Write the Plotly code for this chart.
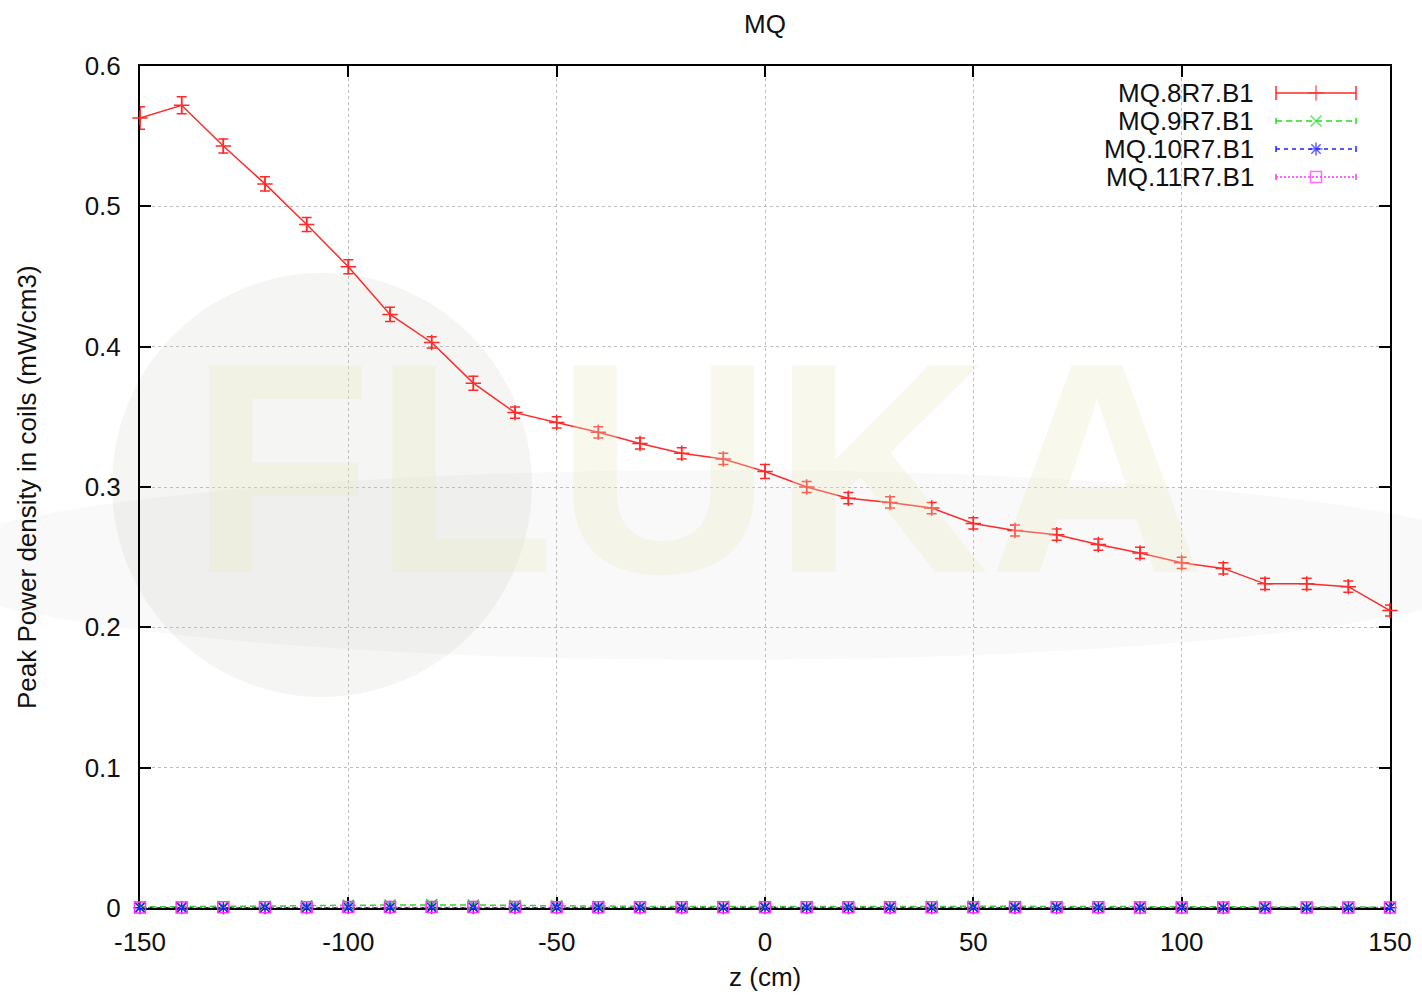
import plotly.graph_objects as go

# Longitudinal position along the magnet (cm)
z_cm = [-150, -140, -130, -120, -110, -100, -90, -80, -70, -60, -50, -40, -30, -20, -10,
        0, 10, 20, 30, 40, 50, 60, 70, 80, 90, 100, 110, 120, 130, 140, 150]

# Peak power density in coils (mW/cm3)
mq8 = [0.563, 0.572, 0.543, 0.516, 0.487, 0.457, 0.423, 0.403, 0.374, 0.353, 0.346, 0.339,
       0.331, 0.324, 0.320, 0.311, 0.300, 0.292, 0.289, 0.285, 0.274, 0.269, 0.266, 0.259,
       0.253, 0.246, 0.242, 0.231, 0.231, 0.229, 0.212]
mq8_err = [0.008, 0.006, 0.005, 0.005, 0.005, 0.005, 0.005, 0.004, 0.005, 0.004, 0.004, 0.004,
           0.004, 0.004, 0.004, 0.005, 0.004, 0.004, 0.004, 0.004, 0.004, 0.004, 0.004, 0.004,
           0.004, 0.004, 0.004, 0.004, 0.004, 0.004, 0.004]
mq9 = [0.0008, 0.0009, 0.0010, 0.0012, 0.0016, 0.0020, 0.0022, 0.0024, 0.0022, 0.0018, 0.0015,
       0.0012, 0.0011, 0.0010, 0.0010, 0.0011, 0.0010, 0.0010, 0.0011, 0.0012, 0.0013, 0.0012,
       0.0011, 0.0010, 0.0009, 0.0009, 0.0008, 0.0008, 0.0007, 0.0007, 0.0006]
mq10 = [0.0002, 0.0002, 0.0002, 0.0003, 0.0003, 0.0004, 0.0004, 0.0004, 0.0004, 0.0003, 0.0003,
        0.0003, 0.0003, 0.0003, 0.0003, 0.0003, 0.0003, 0.0003, 0.0003, 0.0003, 0.0003, 0.0003,
        0.0003, 0.0003, 0.0003, 0.0003, 0.0002, 0.0002, 0.0002, 0.0002, 0.0002]
mq11 = [0.0004, 0.0004, 0.0005, 0.0005, 0.0006, 0.0007, 0.0008, 0.0008, 0.0008, 0.0007, 0.0006,
        0.0006, 0.0005, 0.0005, 0.0005, 0.0005, 0.0005, 0.0005, 0.0005, 0.0005, 0.0005, 0.0005,
        0.0005, 0.0005, 0.0004, 0.0004, 0.0004, 0.0004, 0.0004, 0.0004, 0.0004]

series_names = ["MQ.8R7.B1", "MQ.9R7.B1", "MQ.10R7.B1", "MQ.11R7.B1"]
series_colors = ["#ff2a2a", "#22dd22", "#2020ff", "#ff30ff"]
series_dash = ["solid", "6px,4px", "4px,4px", "2px,2px"]
series_symbols = ["cross-thin", "x-thin", "asterisk", "square-open"]

x_ticks = [-150, -100, -50, 0, 50, 100, 150]
x_ticktext = ["-150", "-100", "-50", "0", "50", "100", "150"]
y_ticks = [0, 0.1, 0.2, 0.3, 0.4, 0.5, 0.6]
y_ticktext = ["0", "0.1", "0.2", "0.3", "0.4", "0.5", "0.6"]

FONT = "Liberation Sans, Arial, sans-serif"
W, H = 1422, 996
L, R, T, B = 140, 32, 66, 88
PW, PH = W - L - R, H - T - B


def px(x):
    return (x - L) / PW


def py(y):
    return (H - B - y) / PH


fig = go.Figure()

data = [mq8, mq9, mq10, mq11]
for i, (name, vals) in enumerate(zip(series_names, data)):
    tr = dict(
        x=z_cm, y=vals, name=name, mode="lines+markers", cliponaxis=False,
        line=dict(color=series_colors[i], width=1.5, dash=series_dash[i]),
        marker=dict(symbol=series_symbols[i], size=11, color=series_colors[i],
                    line=dict(color=series_colors[i], width=1.5)),
        showlegend=False,
    )
    if i == 0:
        tr["error_y"] = dict(type="data", array=mq8_err, visible=True,
                             color=series_colors[0], thickness=1.5, width=5)
    fig.add_trace(go.Scatter(**tr))

# Key samples drawn gnuplot-style (text on the left, sample on the right)
row_px = [93, 121, 149, 177]
sx0, sx1 = px(1276), px(1356)
cap = [7, 3, 3, 3]
for i, name in enumerate(series_names):
    yy = py(row_px[i])
    fig.add_trace(go.Scatter(
        x=[sx0, (sx0 + sx1) / 2, sx1], y=[yy, yy, yy], mode="lines+markers",
        xaxis="x2", yaxis="y2", showlegend=False, hoverinfo="skip",
        line=dict(color=series_colors[i], width=1.5, dash=series_dash[i]),
        marker=dict(symbol=series_symbols[i], size=[0, 11, 0], color=series_colors[i],
                    line=dict(color=series_colors[i], width=1.5)),
        error_y=dict(type="data", array=[cap[i] / PH, 0, cap[i] / PH], visible=True,
                     color=series_colors[i], thickness=1.5, width=0),
    ))
    fig.add_annotation(x=px(1256), y=yy, xref="paper", yref="paper", text=name,
                       showarrow=False, xanchor="right", yanchor="middle",
                       font=dict(family=FONT, size=26, color="#111111"))

# Faint background logo
fig.add_shape(type="circle", xref="paper", yref="paper", layer="below",
              x0=px(112), x1=px(532), y0=py(697), y1=py(273),
              fillcolor="rgba(205,212,195,0.20)", line=dict(width=0))
fig.add_shape(type="circle", xref="paper", yref="paper", layer="below",
              x0=px(-80), x1=px(1520), y0=py(660), y1=py(470),
              fillcolor="rgba(0,0,0,0.022)", line=dict(width=0))
fig.add_annotation(x=px(697), y=py(468), xref="paper", yref="paper", text="<b>FLUKA</b>",
                   showarrow=False, xanchor="center", yanchor="middle",
                   font=dict(family=FONT, size=300, color="rgba(232,232,195,0.30)"))

# Title and axis titles
fig.add_annotation(x=0.5, y=py(24), xref="paper", yref="paper", text="MQ",
                   showarrow=False, xanchor="center", yanchor="middle",
                   font=dict(family=FONT, size=26, color="#111111"))
fig.add_annotation(x=0.5, y=py(977), xref="paper", yref="paper", text="z (cm)",
                   showarrow=False, xanchor="center", yanchor="middle",
                   font=dict(family=FONT, size=26, color="#111111"))
fig.add_annotation(x=px(27), y=py(487), xref="paper", yref="paper",
                   text="Peak Power density in coils (mW/cm3)", textangle=-90,
                   showarrow=False, xanchor="center", yanchor="middle",
                   font=dict(family=FONT, size=26, color="#111111"))

axis_common = dict(
    showline=True, linecolor="#000000", linewidth=2, mirror="ticks",
    ticks="inside", ticklen=11, tickwidth=2, tickcolor="#000000",
    showgrid=True, gridcolor="#bdbdbd", gridwidth=1, griddash="dot",
    zeroline=False, layer="below traces",
    tickfont=dict(family=FONT, size=26, color="#111111"),
)

fig.update_layout(
    width=W, height=H,
    margin=dict(l=L, r=R, t=T, b=B, autoexpand=False),
    paper_bgcolor="white", plot_bgcolor="rgba(0,0,0,0)",
    xaxis=dict(range=[-150, 150], tickvals=x_ticks, ticktext=x_ticktext,
               ticklabelstandoff=10, **axis_common),
    yaxis=dict(range=[0, 0.6], tickvals=y_ticks, ticktext=y_ticktext,
               ticklabelstandoff=12, **axis_common),
    xaxis2=dict(overlaying="x", range=[0, 1], visible=False, anchor="y2"),
    yaxis2=dict(overlaying="y", range=[0, 1], visible=False, anchor="x2"),
    showlegend=False,
)

fig.write_html("out.html")
